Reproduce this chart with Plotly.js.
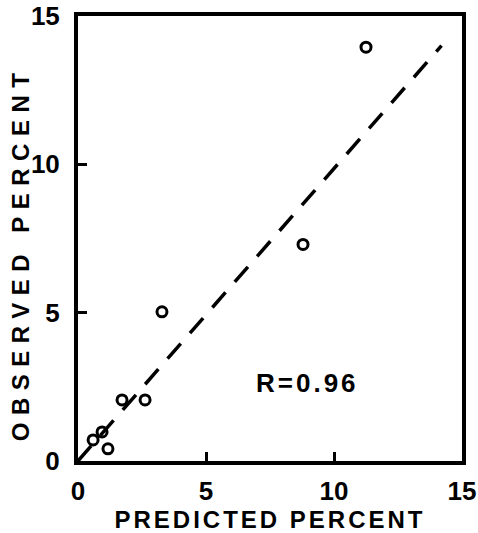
<!DOCTYPE html>
<html>
<head>
<meta charset="utf-8">
<script src="https://cdn.plot.ly/plotly-3.0.1.min.js"></script>
<style>
  html, body { margin: 0; padding: 0; background: #fff; }
  #chart { width: 478px; height: 533px; }
  .xtitle { letter-spacing: 3px; }
</style>
</head>
<body>
<div id="chart"></div>
<script>
// Predicted vs observed percentages
const predicted = [0.59, 0.94, 1.17, 1.72, 2.62, 3.28, 8.79, 11.25];
const observed  = [0.71, 0.98, 0.41, 2.06, 2.06, 5.03, 7.30, 13.95];

// Reference line through the origin
const lineX = [0, 14.2];
const lineY = [0, 14.0];

const tickVals = [0, 5, 10, 15];
const tickText = ['0', '5', '10', '15'];
const rLabel = 'R=0.96';
const yTitle = 'OBSERVED PERCENT';

const fontFamily = '"Liberation Sans", Arial, sans-serif';

const traces = [
  {
    x: lineX, y: lineY, type: 'scatter', mode: 'lines',
    line: { color: '#000', width: 3.5, dash: '20px,14px' },
    hoverinfo: 'skip'
  },
  {
    x: predicted, y: observed, type: 'scatter', mode: 'markers',
    marker: { symbol: 'circle-open', size: 10, color: '#000', line: { width: 3, color: '#000' } }
  }
];

const axisBase = {
  range: [0, 15],
  tickvals: tickVals,
  ticktext: tickText,
  ticks: 'inside',
  ticklen: 9,
  tickwidth: 3,
  tickcolor: '#000',
  showline: true,
  linewidth: 4,
  linecolor: '#000',
  mirror: true,
  showgrid: false,
  zeroline: false,
  tickfont: { family: fontFamily, size: 26, color: '#000', weight: 'bold' }
};

const layout = {
  width: 478, height: 533,
  margin: { l: 78, r: 16, t: 16, b: 72 },
  paper_bgcolor: '#fff', plot_bgcolor: '#fff',
  showlegend: false,
  xaxis: Object.assign({}, axisBase, {
    ticklabelstandoff: 4,
    title: { text: 'PREDICTED PERCENT', standoff: 6,
             font: { family: fontFamily, size: 24, color: '#000', weight: 'bold' } }
  }),
  yaxis: Object.assign({}, axisBase, { ticklabelstandoff: 9 }),
  annotations: [
    {
      x: 8.95, y: 2.64, xref: 'x', yref: 'y', text: rLabel, showarrow: false,
      font: { family: fontFamily, size: 26, color: '#000', weight: 'bold' }
    },
    {
      // vertical axis title, placed left of the tick labels
      x: 0, xref: 'paper', xshift: -58, xanchor: 'center',
      y: 0.467, yref: 'paper', yanchor: 'middle',
      text: yTitle, textangle: -90, showarrow: false,
      font: { family: fontFamily, size: 24, color: '#000', weight: 'bold' }
    }
  ]
};

Plotly.newPlot('chart', traces, layout, { displayModeBar: false, staticPlot: true }).then(() => {
  // letter spacing for the lettered labels
  document.querySelectorAll('#chart .annotation-text').forEach(t => {
    t.style.letterSpacing = t.textContent === yTitle ? '7.5px' : '3px';
  });
});
</script>
</body>
</html>
